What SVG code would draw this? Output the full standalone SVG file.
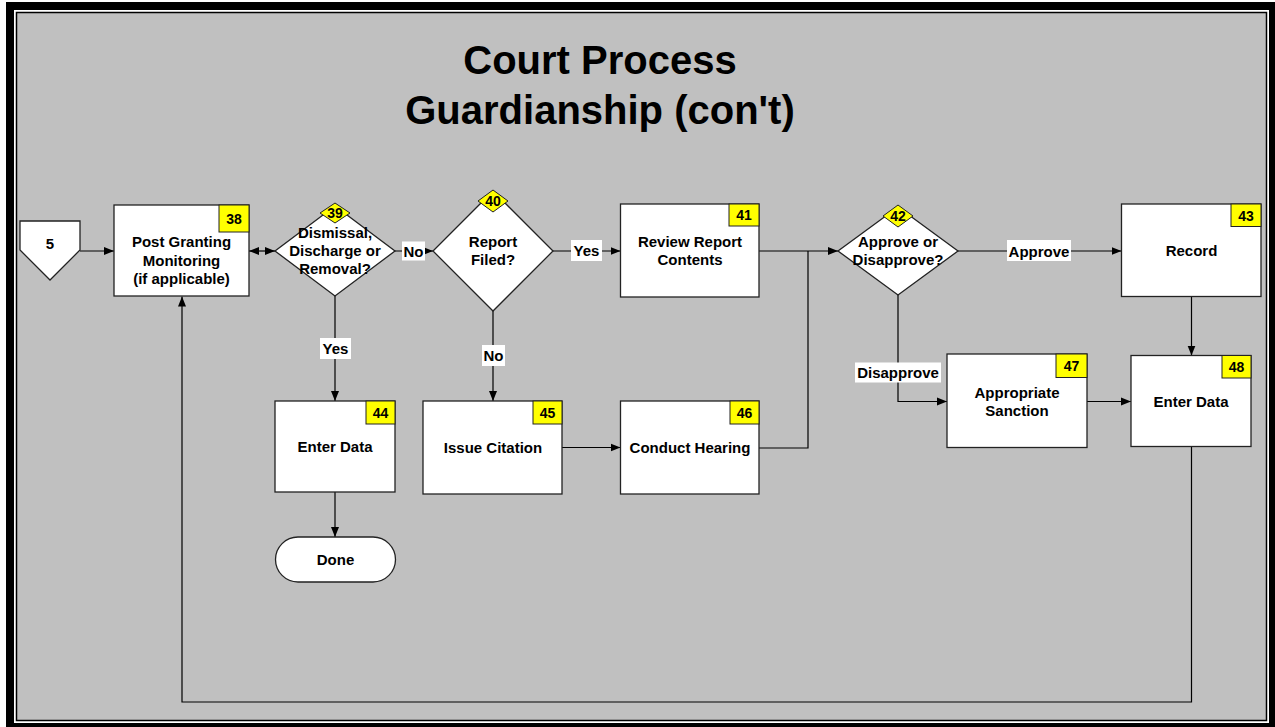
<svg xmlns="http://www.w3.org/2000/svg" width="1275" height="727" viewBox="0 0 1275 727">
  <style>
    .box { fill: #ffffff; stroke: #222222; stroke-width: 1.3; }
    .badge { fill: #ffff00; stroke: #222222; stroke-width: 1; }
    .wire { fill: none; stroke: #000000; stroke-width: 1.2; }
    .t { font-family: "Liberation Sans", Arial, sans-serif; font-weight: bold; font-size: 15px; fill: #000000; text-anchor: middle; }
    .n { font-size: 14px; }
    .title { font-family: "Liberation Sans", Arial, sans-serif; font-weight: bold; font-size: 40px; fill: #000000; text-anchor: middle; }
    .lbl { fill: #ffffff; }
  </style>
  <defs>
    <marker id="arrow" markerUnits="userSpaceOnUse" markerWidth="10" markerHeight="10" viewBox="0 0 10 10" refX="10" refY="5" orient="auto">
      <path d="M0,1 L10,5 L0,9 Z" fill="#000000"/>
    </marker>
    <marker id="arrowStart" markerUnits="userSpaceOnUse" markerWidth="10" markerHeight="10" viewBox="0 0 10 10" refX="0" refY="5" orient="auto">
      <path d="M10,1 L0,5 L10,9 Z" fill="#000000"/>
    </marker>
  </defs>

  <!-- page frame -->
  <rect x="0" y="0" width="1275" height="727" fill="#ffffff"/>
  <rect x="6" y="2" width="1269" height="725" fill="#000000"/>
  <rect x="14" y="10" width="1255" height="713" fill="#ffffff"/>
  <rect x="16.5" y="12.5" width="1250" height="708" fill="#c0c0c0" stroke="#000000" stroke-width="1.5"/>

  <!-- title -->
  <text class="title" x="600" y="74">Court Process</text>
  <text class="title" x="600" y="124">Guardianship (con't)</text>

  <!-- connectors -->
  <g id="connectors">
    <line class="wire" x1="80" y1="251" x2="114" y2="251" marker-end="url(#arrow)"/>
    <line class="wire" x1="249" y1="251" x2="275" y2="251" marker-start="url(#arrowStart)" marker-end="url(#arrow)"/>
    <line class="wire" x1="395" y1="251" x2="433" y2="251" marker-end="url(#arrow)"/>
    <line class="wire" x1="553" y1="251" x2="620.5" y2="251" marker-end="url(#arrow)"/>
    <line class="wire" x1="759" y1="251" x2="838" y2="251" marker-end="url(#arrow)"/>
    <polyline class="wire" points="759,448 808,448 808,251"/>
    <line class="wire" x1="958" y1="251" x2="1121.5" y2="251" marker-end="url(#arrow)"/>
    <line class="wire" x1="1191.5" y1="297" x2="1191.5" y2="355.5" marker-end="url(#arrow)"/>
    <polyline class="wire" points="898,295 898,401.5 947,401.5" marker-end="url(#arrow)"/>
    <line class="wire" x1="1087" y1="401.5" x2="1131" y2="401.5" marker-end="url(#arrow)"/>
    <line class="wire" x1="335" y1="296" x2="335" y2="401" marker-end="url(#arrow)"/>
    <line class="wire" x1="493" y1="311" x2="493" y2="401" marker-end="url(#arrow)"/>
    <line class="wire" x1="562" y1="447.5" x2="620.5" y2="447.5" marker-end="url(#arrow)"/>
    <line class="wire" x1="335" y1="492" x2="335" y2="537" marker-end="url(#arrow)"/>
    <polyline class="wire" points="1191.5,447 1191.5,702 182,702 182,296.5" marker-end="url(#arrow)"/>

    <!-- connector labels -->
    <rect class="lbl" x="402" y="241.5" width="23" height="19"/>
    <text class="t" x="413.5" y="256.5">No</text>
    <rect class="lbl" x="571" y="240" width="31" height="21"/>
    <text class="t" x="586.5" y="256">Yes</text>
    <rect class="lbl" x="1007" y="240" width="64" height="21"/>
    <text class="t" x="1039" y="256.5">Approve</text>
    <rect class="lbl" x="855" y="362.5" width="86" height="20"/>
    <text class="t" x="898" y="378">Disapprove</text>
    <rect class="lbl" x="320" y="338" width="31" height="21"/>
    <text class="t" x="335.5" y="353.5">Yes</text>
    <rect class="lbl" x="482" y="345" width="23" height="21"/>
    <text class="t" x="493.5" y="360.5">No</text>
  </g>

  <!-- off-page connector 5 -->
  <g id="node-5">
    <polygon class="box" points="20,221 80,221 80,250 50,280 20,250"/>
    <text class="t" x="50" y="249">5</text>
  </g>

  <!-- 38 -->
  <g id="node-38">
    <rect class="box" x="114" y="205" width="135" height="91"/>
    <rect class="badge" x="219" y="205" width="30" height="27"/>
    <text class="t n" x="234" y="223.5">38</text>
    <text class="t" x="181.5" y="247">Post Granting</text>
    <text class="t" x="181.5" y="265.5">Monitoring</text>
    <text class="t" x="181.5" y="283.5">(if applicable)</text>
  </g>

  <!-- 39 -->
  <g id="node-39">
    <polygon class="box" points="335,206 395,251 335,296 275,251"/>
    <text class="t" x="335" y="238">Dismissal,</text>
    <text class="t" x="335" y="255.5">Discharge or</text>
    <text class="t" x="335" y="273.5">Removal?</text>
    <polygon class="badge" points="335,203 350,213 335,223 320,213"/>
    <text class="t n" x="335" y="218">39</text>
  </g>

  <!-- 40 -->
  <g id="node-40">
    <polygon class="box" points="493,191 553,251 493,311 433,251"/>
    <polygon class="badge" points="493,190 508,201 493,212 478,201"/>
    <text class="t n" x="493" y="206">40</text>
    <text class="t" x="493" y="247">Report</text>
    <text class="t" x="493" y="264.5">Filed?</text>
  </g>

  <!-- 41 -->
  <g id="node-41">
    <rect class="box" x="620.5" y="204" width="138.5" height="93"/>
    <rect class="badge" x="729" y="204" width="30" height="22"/>
    <text class="t n" x="744" y="220">41</text>
    <text class="t" x="690" y="246.5">Review Report</text>
    <text class="t" x="690" y="264.5">Contents</text>
  </g>

  <!-- 42 -->
  <g id="node-42">
    <polygon class="box" points="898,207 958,251 898,295 838,251"/>
    <polygon class="badge" points="898,205 913,216 898,227 883,216"/>
    <text class="t n" x="898" y="220.5">42</text>
    <text class="t" x="898" y="247">Approve or</text>
    <text class="t" x="898" y="264.5">Disapprove?</text>
  </g>

  <!-- 43 -->
  <g id="node-43">
    <rect class="box" x="1121.5" y="204" width="139.5" height="92.5"/>
    <rect class="badge" x="1231" y="204" width="30" height="22.5"/>
    <text class="t n" x="1246" y="220.5">43</text>
    <text class="t" x="1191.5" y="255.5">Record</text>
  </g>

  <!-- 44 -->
  <g id="node-44">
    <rect class="box" x="275" y="401" width="120" height="91"/>
    <rect class="badge" x="366" y="401" width="29" height="23"/>
    <text class="t n" x="380.5" y="417.5">44</text>
    <text class="t" x="335" y="451.5">Enter Data</text>
  </g>

  <!-- 45 -->
  <g id="node-45">
    <rect class="box" x="423" y="401" width="139" height="93"/>
    <rect class="badge" x="533" y="401" width="29" height="23"/>
    <text class="t n" x="547.5" y="417.5">45</text>
    <text class="t" x="493" y="453">Issue Citation</text>
  </g>

  <!-- 46 -->
  <g id="node-46">
    <rect class="box" x="620.5" y="401" width="138.5" height="93"/>
    <rect class="badge" x="730" y="401" width="29" height="23"/>
    <text class="t n" x="744.5" y="417.5">46</text>
    <text class="t" x="690" y="453">Conduct Hearing</text>
  </g>

  <!-- 47 -->
  <g id="node-47">
    <rect class="box" x="947" y="354" width="140" height="93.5"/>
    <rect class="badge" x="1056" y="354" width="31" height="23.5"/>
    <text class="t n" x="1071.5" y="371">47</text>
    <text class="t" x="1017" y="398">Appropriate</text>
    <text class="t" x="1017" y="415.5">Sanction</text>
  </g>

  <!-- 48 -->
  <g id="node-48">
    <rect class="box" x="1131" y="355.5" width="120" height="91"/>
    <rect class="badge" x="1222" y="355.5" width="29" height="22.5"/>
    <text class="t n" x="1236.5" y="372">48</text>
    <text class="t" x="1191" y="406.5">Enter Data</text>
  </g>

  <!-- Done terminator -->
  <g id="node-done">
    <rect class="box" x="275.5" y="537" width="120" height="45" rx="22.5" ry="22.5"/>
    <text class="t" x="335.5" y="564.5">Done</text>
  </g>
</svg>
